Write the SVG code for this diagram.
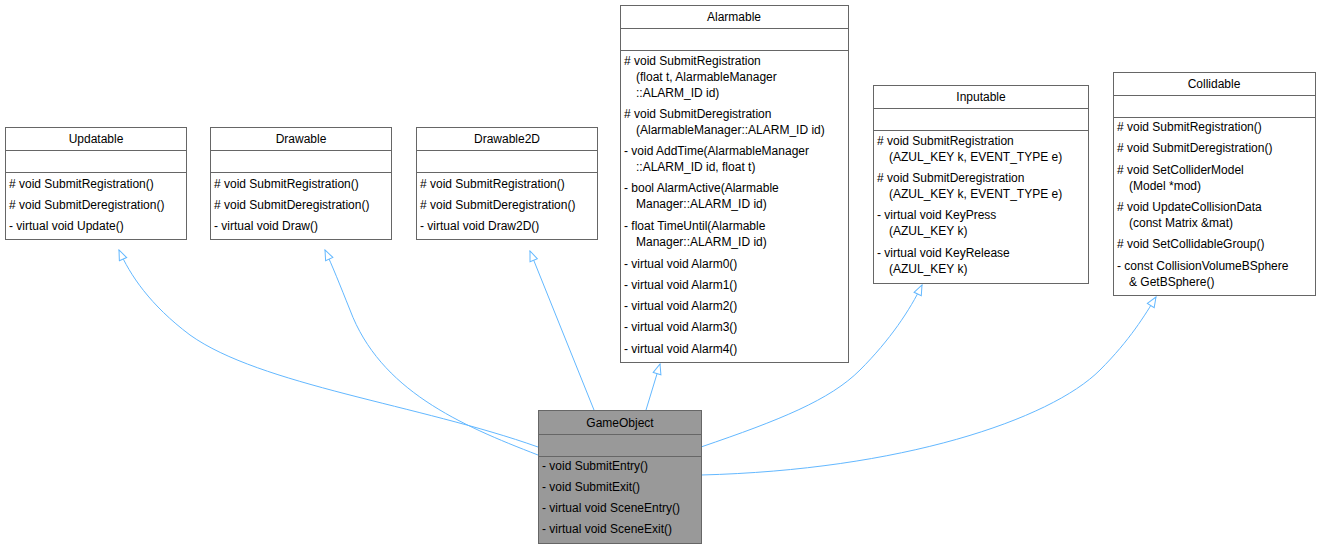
<svg xmlns="http://www.w3.org/2000/svg" width="1321" height="549" viewBox="0 0 1321 549">
<defs>
<style>
.b{fill:#fff;stroke:#666;stroke-width:1}
.g{fill:#999;stroke:#666;stroke-width:1}
.l{stroke:#666;stroke-width:1}
text{font-family:"Liberation Sans",Arial,sans-serif;font-size:12px;fill:#000}
.c{text-anchor:middle}
.e{fill:none;stroke:#63b8ff;stroke-width:1;marker-end:url(#tri)}
</style>
<marker id="tri" viewBox="0 0 12 10" refX="11" refY="5" markerWidth="12" markerHeight="10" markerUnits="userSpaceOnUse" orient="auto">
<path d="M1,1 L11,5 L1,9 Z" fill="#fff" stroke="#63b8ff"/>
</marker>
</defs>
<rect width="1321" height="549" fill="#fff"/>
<g id="edges">
<path class="e" d="M538,447 C420,405 260,385 190,335 C150,305 130,275 119,250"/>
<path class="e" d="M538,455 C460,425 380,390 350,310 C340,285 332,265 325,250"/>
<path class="e" d="M594,410 L530,251"/>
<path class="e" d="M646,410 L660,364"/>
<path class="e" d="M701,447 C780,420 830,400 860,370 C890,340 910,310 922,285"/>
<path class="e" d="M701,475 C900,470 1050,420 1100,370 C1130,340 1145,315 1156,297"/>
</g>
<g id="Updatable">
<rect class="b" x="5.5" y="127.5" width="181" height="112"/>
<line class="l" x1="5.5" y1="150.5" x2="186.5" y2="150.5"/><line class="l" x1="5.5" y1="172.5" x2="186.5" y2="172.5"/>
<text class="c" x="96" y="143">Updatable</text>
<text x="9" y="188"># void SubmitRegistration()</text>
<text x="9" y="209"># void SubmitDeregistration()</text>
<text x="9" y="230">-  virtual void Update()</text>
</g>
<g id="Drawable">
<rect class="b" x="210.5" y="127.5" width="181" height="112"/>
<line class="l" x1="210.5" y1="150.5" x2="391.5" y2="150.5"/><line class="l" x1="210.5" y1="172.5" x2="391.5" y2="172.5"/>
<text class="c" x="301" y="143">Drawable</text>
<text x="214" y="188"># void SubmitRegistration()</text>
<text x="214" y="209"># void SubmitDeregistration()</text>
<text x="214" y="230">-  virtual void Draw()</text>
</g>
<g id="Drawable2D">
<rect class="b" x="416.5" y="127.5" width="181" height="112"/>
<line class="l" x1="416.5" y1="150.5" x2="597.5" y2="150.5"/><line class="l" x1="416.5" y1="172.5" x2="597.5" y2="172.5"/>
<text class="c" x="507" y="143">Drawable2D</text>
<text x="420" y="188"># void SubmitRegistration()</text>
<text x="420" y="209"># void SubmitDeregistration()</text>
<text x="420" y="230">-  virtual void Draw2D()</text>
</g>
<g id="Alarmable">
<rect class="b" x="620.5" y="5.5" width="228" height="357"/>
<line class="l" x1="620.5" y1="28.5" x2="848.5" y2="28.5"/><line class="l" x1="620.5" y1="50.5" x2="848.5" y2="50.5"/>
<text class="c" x="734" y="21">Alarmable</text>
<text x="624" y="65"># void SubmitRegistration</text>
<text x="636" y="81">(float t, AlarmableManager</text>
<text x="636" y="97">::ALARM_ID id)</text>
<text x="624" y="118"># void SubmitDeregistration</text>
<text x="636" y="134">(AlarmableManager::ALARM_ID id)</text>
<text x="624" y="155">-  void AddTime(AlarmableManager</text>
<text x="636" y="171">::ALARM_ID id, float t)</text>
<text x="624" y="192">-  bool AlarmActive(Alarmable</text>
<text x="636" y="208">Manager::ALARM_ID id)</text>
<text x="624" y="230">-  float TimeUntil(Alarmable</text>
<text x="636" y="246">Manager::ALARM_ID id)</text>
<text x="624" y="268">-  virtual void Alarm0()</text>
<text x="624" y="289">-  virtual void Alarm1()</text>
<text x="624" y="310">-  virtual void Alarm2()</text>
<text x="624" y="331">-  virtual void Alarm3()</text>
<text x="624" y="353">-  virtual void Alarm4()</text>
</g>
<g id="Inputable">
<rect class="b" x="873.5" y="85.5" width="215" height="198"/>
<line class="l" x1="873.5" y1="108.5" x2="1088.5" y2="108.5"/><line class="l" x1="873.5" y1="130.5" x2="1088.5" y2="130.5"/>
<text class="c" x="981" y="101">Inputable</text>
<text x="877" y="145"># void SubmitRegistration</text>
<text x="889" y="161">(AZUL_KEY k, EVENT_TYPE e)</text>
<text x="877" y="182"># void SubmitDeregistration</text>
<text x="889" y="198">(AZUL_KEY k, EVENT_TYPE e)</text>
<text x="877" y="219">-  virtual void KeyPress</text>
<text x="889" y="235">(AZUL_KEY k)</text>
<text x="877" y="257">-  virtual void KeyRelease</text>
<text x="889" y="273">(AZUL_KEY k)</text>
</g>
<g id="Collidable">
<rect class="b" x="1113.5" y="72.5" width="202" height="223"/>
<line class="l" x1="1113.5" y1="95.5" x2="1315.5" y2="95.5"/><line class="l" x1="1113.5" y1="117.5" x2="1315.5" y2="117.5"/>
<text class="c" x="1214" y="88">Collidable</text>
<text x="1117" y="131"># void SubmitRegistration()</text>
<text x="1117" y="152"># void SubmitDeregistration()</text>
<text x="1117" y="174"># void SetColliderModel</text>
<text x="1129" y="190">(Model *mod)</text>
<text x="1117" y="211"># void UpdateCollisionData</text>
<text x="1129" y="227">(const Matrix &amp;mat)</text>
<text x="1117" y="248"># void SetCollidableGroup()</text>
<text x="1117" y="270">-  const CollisionVolumeBSphere</text>
<text x="1129" y="286">&amp; GetBSphere()</text>
</g>
<g id="GameObject">
<rect class="g" x="538.5" y="410.5" width="163" height="133"/>
<line class="l" x1="538.5" y1="434.5" x2="701.5" y2="434.5"/><line class="l" x1="538.5" y1="456.5" x2="701.5" y2="456.5"/>
<text class="c" x="620" y="427">GameObject</text>
<text x="542" y="470">-  void SubmitEntry()</text>
<text x="542" y="491">-  void SubmitExit()</text>
<text x="542" y="512">-  virtual void SceneEntry()</text>
<text x="542" y="533">-  virtual void SceneExit()</text>
</g>
</svg>
